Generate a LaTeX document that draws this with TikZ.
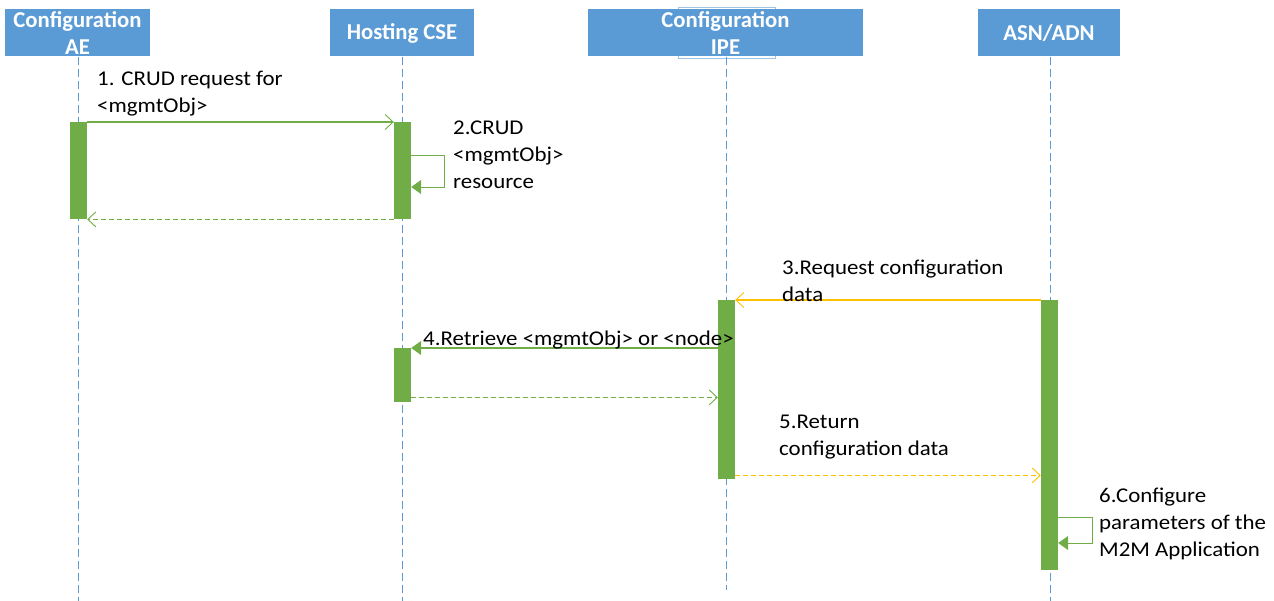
\documentclass[tikz,border=0pt]{standalone}
\usepackage{fontspec}
\setmainfont{Carlito}
\newfontfamily\labelfont{Carlito}[FakeStretch=1.09]
\usetikzlibrary{arrows.meta}
\definecolor{hblue}{HTML}{5B9BD5}
\definecolor{lblue}{HTML}{9DC3E6}
\definecolor{bargreen}{HTML}{70AD47}
\definecolor{msgyellow}{HTML}{FFC000}
\tikzset{
  header/.style={fill=hblue, draw=none, text=white, font=\fontsize{22.7}{27}\selectfont\bfseries, align=center, inner sep=0pt, minimum height=47pt},
  lifeline/.style={draw=hblue, line width=0.8pt, dash pattern=on 8pt off 4pt},
  actbar/.style={fill=bargreen, draw=none, minimum width=17pt, inner sep=0pt, anchor=north},
  msglabel/.style={font=\labelfont\fontsize{21}{27}\selectfont, align=left, anchor=base west, inner sep=0pt, text=black},
  openhead/.style={-{Straight Barb[length=8pt,width=15pt,line width=0.9pt]}},
  fillhead/.style={-{Triangle[length=10pt,width=14pt]}},
  greenmsg/.style={draw=bargreen, line width=1.1pt},
  yellowmsg/.style={draw=msgyellow, line width=1.1pt},
  selfmsg/.style={draw=bargreen, line width=0.9pt},
  returnmsg/.style={dash pattern=on 5pt off 3pt}
}
\begin{document}
\begin{tikzpicture}[x=1pt,y=-1pt]
\useasboundingbox (0,0) rectangle (1274,601);
% headers
\draw[lblue, line width=0.8pt] (678,7) rectangle (775,58);
\node[header, minimum width=145pt] (hAE) at (77.5,33) {Configuration\\AE};
\node[header, minimum width=144pt] (hCSE) at (402,33) {Hosting CSE};
\node[header, minimum width=275pt] (hIPE) at (725.5,33) {Configuration\\IPE};
\node[header, minimum width=142pt] (hASN) at (1049,33) {ASN/ADN};
% lifeline ends
\coordinate (eAE) at (78,601);
\coordinate (eCSE) at (402,601);
\coordinate (eIPE) at (726,590);
\coordinate (eASN) at (1050,601);
\draw[lifeline] (hAE.south -| eAE) -- (eAE);
\draw[lifeline] (hCSE.south -| eCSE) -- (eCSE);
\draw[lifeline] (hIPE.south -| eIPE) -- (eIPE);
\draw[lifeline] (hASN.south -| eASN) -- (eASN);
% activation bars
\node[actbar, minimum height=97pt] (ae1) at (78.5,122) {};
\node[actbar, minimum height=97pt] (cse1) at (402.5,122) {};
\node[actbar, minimum height=179pt] (ipe1) at (726.5,300) {};
\node[actbar, minimum height=270pt] (asn1) at (1049.5,300) {};
\node[actbar, minimum height=54pt] (cse2) at (402.5,348) {};
% message 1
\draw[greenmsg, openhead] (ae1.north east) -- (cse1.north west);
% self call 2
\draw[selfmsg, fillhead]
  ([yshift=-33pt]cse1.north east) -- ++(33,0) -- ++(0,32) -- ([yshift=-65pt]cse1.north east);
% return 1
\draw[greenmsg, returnmsg, openhead] (cse1.south west) -- (ae1.south east);
% message 3
\draw[yellowmsg, openhead] (asn1.north west) -- (ipe1.north east);
% message 4
\draw[greenmsg, fillhead] (ipe1.west |- cse2.north) -- (cse2.north east);
% return 4
\coordinate (r4) at ([yshift=5pt]cse2.south east);
\draw[greenmsg, returnmsg, openhead] (r4) -- (ipe1.west |- r4);
% message 5
\coordinate (m5) at ([yshift=4pt]ipe1.south east);
\draw[yellowmsg, returnmsg, openhead] (m5) -- (asn1.west |- m5);
% self call 6
\draw[selfmsg, fillhead]
  ([yshift=-217pt]asn1.north east) -- ++(34,0) -- ++(0,26) -- ([yshift=-243pt]asn1.north east);
% labels (base = baseline of the last line)
\node[msglabel] (l1) at (97,113) {1. CRUD request for\\<mgmtObj>};
\node[msglabel] (l2) at (453,189) {2.CRUD\\<mgmtObj>\\resource};
\node[msglabel] (l3) at (782,302) {3.Request configuration\\data};
\node[msglabel] (l4) at (423,345) {4.Retrieve <mgmtObj> or <node>};
\node[msglabel] (l5) at (779,455) {5.Return\\configuration data};
\node[msglabel] (l6) at (1099,556) {6.Configure\\parameters of the\\M2M Application};
\end{tikzpicture}
\end{document}
